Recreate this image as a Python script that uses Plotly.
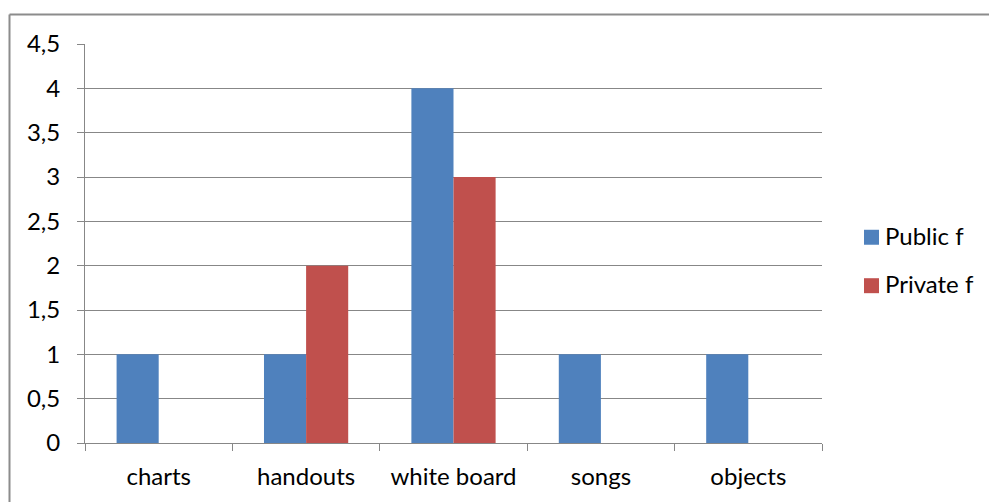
import plotly.graph_objects as go

categories = ["charts", "handouts", "white board", "songs", "objects"]
public_f = [1, 1, 4, 1, 1]
private_f = [0, 2, 3, 0, 0]
y_ticks = [0, 0.5, 1, 1.5, 2, 2.5, 3, 3.5, 4, 4.5]
series_names = ["Public f", "Private f"]
series_colors = ["#4F81BD", "#C0504D"]

W, H = 989, 502
ML, MR, MT, MB = 85, 167, 43.5, 59
PW, PH = W - ML - MR, H - MT - MB

GRID = "#878787"
FONT = "Lato"
FS = 24

def px_x(x):
    return (x - ML) / PW

def px_y(y):
    return (H - MB - y) / PH

fig = go.Figure()
for name, color, vals in zip(series_names, series_colors, [public_f, private_f]):
    fig.add_trace(go.Bar(x=categories, y=vals, name=name,
                         marker=dict(color=color, line=dict(width=0))))

# outer chart frame (top and left edges)
fig.add_shape(type="line", xref="paper", yref="paper",
              x0=px_x(9.5), x1=px_x(W + 5), y0=px_y(14), y1=px_y(14),
              line=dict(color="#8c8c8c", width=2))
fig.add_shape(type="line", xref="paper", yref="paper",
              x0=px_x(9.5), x1=px_x(9.5), y0=px_y(14), y1=px_y(H + 5),
              line=dict(color="#8c8c8c", width=2))

# legend at the right: colour swatch plus series name
legend_rows = [237, 285.5]
for name, color, cy in zip(series_names, series_colors, legend_rows):
    fig.add_shape(type="rect", xref="paper", yref="paper",
                  x0=px_x(864), x1=px_x(879), y0=px_y(cy - 7.5), y1=px_y(cy + 7.5),
                  fillcolor=color, line=dict(width=0))
    fig.add_annotation(xref="paper", yref="paper", x=px_x(883), y=px_y(cy - 2),
                       text=name, showarrow=False, xanchor="left", yanchor="middle",
                       font=dict(family=FONT, size=FS, color="#000000"))

fig.update_layout(
    width=W, height=H,
    margin=dict(l=ML, r=MR, t=MT, b=MB),
    paper_bgcolor="white", plot_bgcolor="white",
    separators=",.",
    barmode="group", bargap=0.75 / 1.75, bargroupgap=0,
    font=dict(family=FONT, size=FS, color="#000000"),
    showlegend=False,
    xaxis=dict(type="category", showgrid=False, showline=True,
               linecolor=GRID, linewidth=1,
               ticks="outside", ticklen=7, tickcolor=GRID, tickwidth=1,
               tickson="boundaries", ticklabelstandoff=12,
               tickfont=dict(family=FONT, size=FS, color="#000000")),
    yaxis=dict(range=[0, 4.5], tickvals=y_ticks, showgrid=True,
               gridcolor=GRID, gridwidth=1, zeroline=False,
               showline=True, linecolor=GRID, linewidth=1,
               ticks="outside", ticklen=7, tickcolor=GRID, tickwidth=1,
               ticklabelstandoff=12,
               tickfont=dict(family=FONT, size=FS, color="#000000")),
)

fig.write_html("out.html")
